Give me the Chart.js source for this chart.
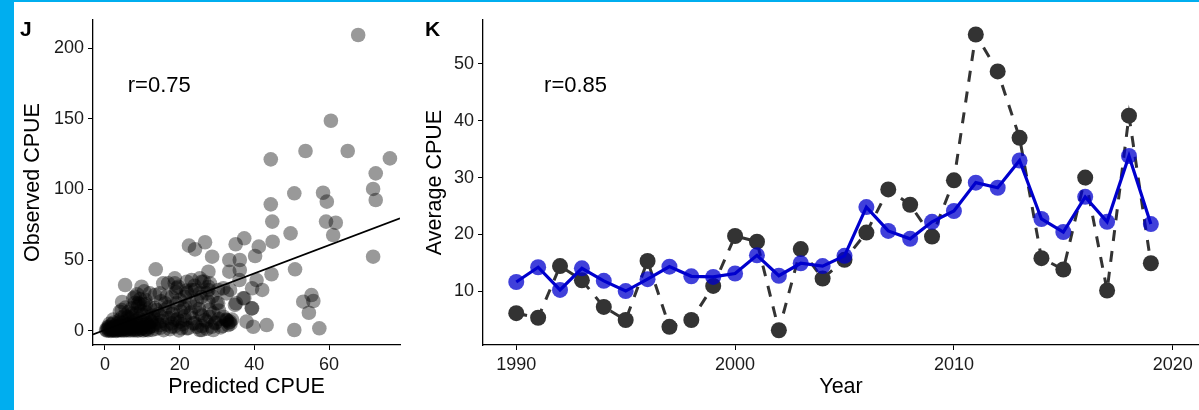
<!DOCTYPE html>
<html>
<head>
<meta charset="utf-8">
<script src="https://cdn.jsdelivr.net/npm/chart.js@4.4.1/dist/chart.umd.min.js"></script>
<style>
  html, body { margin: 0; padding: 0; background: #fff; }
  #frame { position: relative; width: 1199px; height: 410px; overflow: hidden; background: #fff; }
  #edgeL { position: absolute; left: 0; top: 0; width: 14px; height: 410px; background: #00AEEF; }
  #edgeT { position: absolute; left: 0; top: 0; width: 1199px; height: 2px; background: #00AEEF; }
  canvas { position: absolute; top: 0; }
  #chartJ { left: 0; }
  #chartK { left: 405px; }
</style>
</head>
<body>
<div id="frame">
  <canvas id="chartJ" width="401" height="410"></canvas>
  <canvas id="chartK" width="794" height="410"></canvas>
  <div id="edgeL"></div>
  <div id="edgeT"></div>
</div>
<script>
// panel J: predicted vs observed CPUE, one [predicted, observed] pair per point
const cpuePairs = [
  [67.8,209.2],[60.5,148.6],[53.7,127.2],[65.0,127.2],[44.4,121.3],[76.3,122.0],[72.5,111.4],[71.8,100.4],
  [72.5,92.6],[50.7,97.3],[58.4,97.7],[59.4,91.4],[44.4,89.5],[44.8,77.3],[59.2,77.3],[61.8,76.5],
  [61.1,67.8],[49.7,69.0],[44.9,63.1],[71.8,52.5],[50.9,43.6],[44.6,40.1],[53.1,20.7],[55.3,25.4],
  [55.8,21.2],[54.6,12.9],[50.7,0.7],[57.4,1.9],[43.3,4.2],[39.7,3.0],[37.9,6.6],[39.4,16.0],
  [37.3,23.1],[35.1,19.6],[42.1,29.0],[40.6,36.0],[39.4,30.2],[40.2,53.0],[41.2,59.6],[37.3,65.5],
  [35.0,61.3],[36.1,50.2],[33.3,50.2],[36.1,43.1],[33.3,41.9],[36.0,36.0],[33.5,29.0],[22.5,60.3],
  [24.1,57.7],[26.8,62.7],[28.7,52.5],[27.7,41.9],[13.6,43.6],[5.4,32.5],[30.3,19.6],[29.0,12.5],
  [31.7,30.2],[28.1,33.7],[25.9,34.8],[25.4,26.6],[29.9,19.6],[34.8,18.4],[37.0,23.1],[39.3,16.0],
  [9.8,31.3],[7.6,23.1],[4.0,13.6],[13.4,25.4],[15.6,33.7],[18.7,37.2],[19.6,31.3],[16.5,24.2],
  [19.2,19.6],[13.8,14.8],[21.9,34.8],[23.2,29.0],[25.4,37.2],[24.6,21.9],[27.7,31.3],[27.2,26.6],
  [21.4,17.2],[25.4,12.5],[27.2,6.6],[23.6,5.4],[20.1,6.6],[17.9,5.4],[14.7,4.2],[12.0,3.0],
  [29.0,0.7],[25.4,0.7],[21.9,1.9],[31.7,10.1],[33.5,6.6],[33.0,4.2],[32.6,7.8],[34.0,8.0],
  [30.3,29.0],[32.6,26.6],[16.9,33.7],[18.7,33.7],[19.2,30.2],[14.7,26.6],[12.0,26.6],[23.2,36.0],
  [24.1,29.0],[27.7,29.0],[21.4,24.2],[21.0,16.0],[24.1,17.2],[27.7,20.7],[16.1,19.6],[13.4,16.0],
  [15.2,10.1],[12.5,6.6],[18.7,7.8],[21.4,7.8],[24.1,5.4],[26.8,7.8],[29.5,5.4],[25.9,0.7],
  [20.5,1.9],[17.8,3.0],[8.0,24.2],[8.9,19.6],[4.5,14.8],[28.6,3.0],[31.0,2.5],[26.0,3.5],
  [30.5,8.5],[26.0,11.0],[28.0,15.0],[23.0,13.0],[18.0,12.0],[20.0,22.0],[22.0,27.0],[17.0,17.0],
  [15.0,21.0],[11.0,19.0],[10.5,28.0],
  [0.5,0.3],[0.8,1.5],[1.0,0.2],[1.1,3.0],[1.3,0.9],[1.5,2.2],[1.6,0.1],[1.8,4.5],
  [2.0,1.2],[2.1,0.4],[2.3,2.8],[2.4,6.0],[2.6,0.8],[2.7,1.9],[2.9,3.6],[3.0,0.1],
  [3.2,5.2],[3.3,1.4],[3.5,0.6],[3.6,2.5],[3.8,7.5],[3.9,4.0],[4.1,0.3],[4.2,1.8],
  [4.4,3.1],[4.5,9.5],[4.7,0.9],[4.8,5.8],[5.0,2.2],[5.1,0.2],[5.3,4.3],[5.4,11.0],
  [5.6,1.3],[5.7,7.0],[5.9,3.0],[6.0,0.5],[6.2,5.0],[6.3,13.5],[6.5,1.9],[6.6,8.8],
  [6.8,0.3],[6.9,3.8],[7.1,6.2],[7.2,16.0],[7.4,1.0],[7.5,10.5],[7.7,4.6],[7.8,0.4],
  [8.0,2.6],[8.1,20.0],[8.2,7.4],[8.4,12.5],[8.5,1.5],[8.7,5.5],[8.8,0.2],[8.9,17.5],
  [9.1,3.3],[9.2,9.0],[9.4,22.5],[9.5,0.9],[9.6,14.5],[9.8,6.0],[9.9,2.1],[10.1,11.5],
  [10.2,0.3],[10.4,18.5],[10.5,4.2],[10.7,8.0],[10.9,1.2],[11.1,13.0],[11.3,5.5],[11.5,0.5],
  [11.7,9.5],[11.9,2.7],[12.1,16.5],[12.3,6.8],[12.6,0.8],[12.8,11.0],[13.0,3.8],[13.3,8.3],
  [13.6,1.5],[14.0,5.8],[14.4,12.0],[14.8,2.3],[15.2,7.0],[15.7,0.6],[16.1,15.0],[16.5,4.5],
  [17.0,9.2],[17.4,1.3],[17.9,24.0],[18.2,13.5],[18.6,3.2],[19.0,27.5],[19.4,8.5],[19.8,0.4],
  [20.3,14.0],[20.8,4.8],[21.3,10.5],[21.8,28.5],[22.3,2.0],[22.8,19.5],[23.4,9.0],[24.0,32.0],
  [24.6,3.0],[25.2,15.5],[25.8,24.0],[26.5,35.0],[27.3,1.6],[28.0,10.0],[28.8,24.5],[29.6,6.0],
  [30.5,14.5],[31.5,3.5],[32.4,8.0],[33.2,6.0],[33.6,5.0],[32.8,7.2],
  [0.3,0.8],[0.7,2.6],[1.2,5.0],[1.9,0.6],[2.2,8.0],[2.8,0.3],[3.4,3.2],[3.7,1.0],
  [4.0,6.2],[4.3,0.7],[4.9,1.6],[5.2,3.4],[5.8,0.8],[6.4,2.8],[7.0,1.4],[7.6,3.0],
  [8.3,0.9],[9.0,4.8],[9.7,1.5],[10.3,3.0],[11.0,0.9],[11.8,4.0],[6.1,9.8],[7.3,12.3],
  [5.5,16.5],[8.6,26.0],[9.3,19.0],[4.6,20.5],[10.8,22.0]
];
// fitted line end points
const fitX = [-3.2, 79];
const fitY = [-2.4, 79.6];
const jTicksX = [0, 20, 40, 60];
const jTicksY = [0, 50, 100, 150, 200];

// panel K: yearly averages
const years = [1990,1991,1992,1993,1994,1995,1996,1997,1998,1999,2000,2001,2002,2003,2004,
               2005,2006,2007,2008,2009,2010,2011,2012,2013,2014,2015,2016,2017,2018,2019];
const observedAvg = [6.1,5.3,14.4,11.9,7.2,4.9,15.3,3.7,4.9,10.9,19.7,18.7,3.1,17.4,12.2,
                     15.5,20.3,27.9,25.2,19.6,29.5,55.2,48.7,37.0,15.8,13.8,30.0,10.1,40.9,14.9];
const predictedAvg = [11.6,14.2,10.2,14.0,11.8,10.0,12.1,14.3,12.6,12.5,13.1,16.3,12.7,14.9,14.4,
                      16.2,24.8,20.6,19.2,22.2,24.1,29.1,28.2,33.0,22.7,20.4,26.6,22.2,33.8,21.8];
const kTicksX = [1990, 2000, 2010, 2020];
const kTicksY = [10, 20, 30, 40, 50];

Chart.defaults.font.family = "'Liberation Sans', Arial, sans-serif";
Chart.defaults.color = '#1a1a1a';

const textPlugin = {
  id: 'panelText',
  afterDraw(chart, args, opts) {
    const ctx = chart.ctx;
    ctx.save();
    ctx.fillStyle = '#000';
    opts.items.forEach(it => {
      ctx.font = it.font;
      ctx.textAlign = 'left';
      ctx.textBaseline = 'middle';
      let x = it.px, y = it.py;
      if (it.x !== undefined) {
        x = chart.scales.x.getPixelForValue(it.x);
        y = chart.scales.y.getPixelForValue(it.y);
      }
      ctx.fillText(it.text, x, y);
    });
    ctx.restore();
  }
};

function makeAxis(min, max, ticks, title, titlePad, size) {
  return {
    type: 'linear',
    min: min,
    max: max,
    afterBuildTicks: s => { s.ticks = ticks.map(v => ({ value: v })); },
    afterFit: s => {
      if (s.isHorizontal()) s.height = size; else s.width = size;
    },
    grid: { drawOnChartArea: false, drawTicks: true, tickLength: 5, color: '#000', lineWidth: 1 },
    border: { display: true, color: '#000', width: 1.3 },
    ticks: { font: { size: 18 }, color: '#1a1a1a', padding: 4, callback: v => String(v) },
    title: { display: true, text: title, font: { size: 21.5 }, color: '#000', padding: titlePad }
  };
}

new Chart(document.getElementById('chartJ'), {
  type: 'scatter',
  data: {
    datasets: [
      {
        data: cpuePairs.map(p => ({ x: p[0], y: p[1] })),
        pointRadius: 7.3,
        pointBackgroundColor: 'rgba(0,0,0,0.4)',
        pointBorderWidth: 0,
        order: 1
      },
      {
        type: 'line',
        data: fitX.map((v, i) => ({ x: v, y: fitY[i] })),
        borderColor: '#000',
        borderWidth: 1.8,
        pointRadius: 0,
        order: 0
      }
    ]
  },
  options: {
    responsive: false,
    animation: false,
    events: [],
    layout: { autoPadding: false, padding: { top: 20, left: 0, right: 1, bottom: 0 } },
    plugins: {
      legend: { display: false },
      tooltip: { enabled: false },
      panelText: { items: [
        { text: 'r=0.75', x: 6.1, y: 173, font: "22px 'Liberation Sans', Arial" },
        { text: 'J', px: 20, py: 30, font: "bold 21px 'Liberation Sans', Arial" }
      ] }
    },
    scales: {
      x: makeAxis(-3.2, 79, jTicksX, 'Predicted CPUE', { top: 0, bottom: 10 }, 65),
      y: makeAxis(-9.9, 219.8, jTicksY, 'Observed CPUE', { top: 20, bottom: 0 }, 93)
    }
  },
  plugins: [textPlugin]
});

new Chart(document.getElementById('chartK'), {
  type: 'line',
  data: {
    datasets: [
      {
        data: years.map((v, i) => ({ x: v, y: predictedAvg[i] })),
        borderColor: '#0000CD',
        borderWidth: 3.2,
        pointRadius: 0,
        tension: 0,
        order: 0
      },
      {
        data: years.map((v, i) => ({ x: v, y: predictedAvg[i] })),
        showLine: false,
        pointRadius: 8,
        pointBackgroundColor: 'rgba(0,0,205,0.75)',
        pointBorderWidth: 0,
        order: 1
      },
      {
        data: years.map((v, i) => ({ x: v, y: observedAvg[i] })),
        showLine: false,
        pointRadius: 8,
        pointBackgroundColor: '#333333',
        pointBorderWidth: 0,
        order: 2
      },
      {
        data: years.map((v, i) => ({ x: v, y: observedAvg[i] })),
        borderColor: '#333333',
        borderWidth: 3,
        borderDash: [11, 10],
        pointRadius: 0,
        tension: 0,
        order: 3
      }
    ]
  },
  options: {
    responsive: false,
    animation: false,
    events: [],
    layout: { autoPadding: false, padding: { top: 20, left: 0, right: 0, bottom: 0 } },
    plugins: {
      legend: { display: false },
      tooltip: { enabled: false },
      panelText: { items: [
        { text: 'r=0.85', x: 1991.27, y: 46.1, font: "22px 'Liberation Sans', Arial" },
        { text: 'K', px: 20, py: 30, font: "bold 21px 'Liberation Sans', Arial" }
      ] }
    },
    scales: {
      x: makeAxis(1988.48, 2021.2, kTicksX, 'Year', { top: 0, bottom: 10 }, 65),
      y: makeAxis(0.5, 57.75, kTicksY, 'Average CPUE', { top: 17, bottom: 0 }, 78)
    }
  },
  plugins: [textPlugin]
});
</script>
</body>
</html>
